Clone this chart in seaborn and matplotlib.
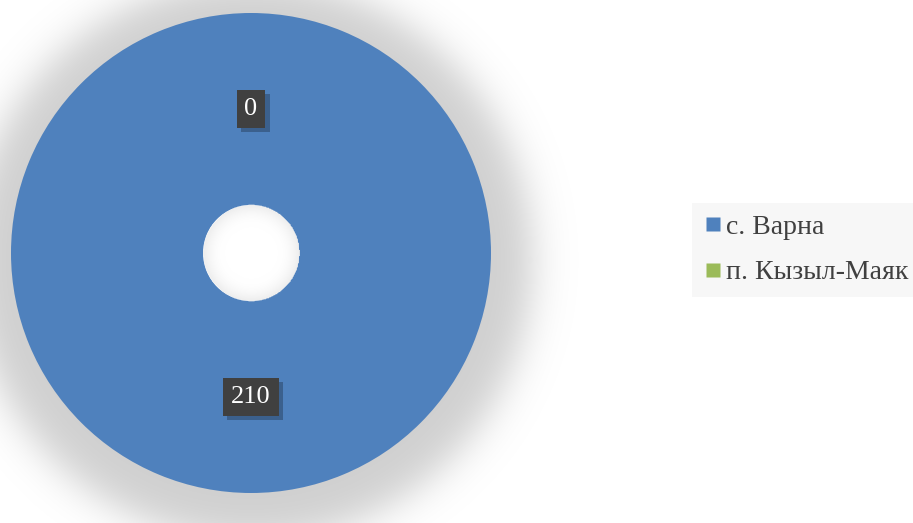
import numpy as np
import matplotlib
matplotlib.use("Agg")
import matplotlib.pyplot as plt
from matplotlib.lines import Line2D
import matplotlib.patheffects as pe
import seaborn as sns

# Data
categories = ["с. Варна", "п. Кызыл-Маяк"]
values = [210, 0]
colors = ["#4F81BD", "#9BBB59"]

sns.set_theme(style="white")
plt.rcParams["font.family"] = ["Liberation Serif", "DejaVu Serif"]

W, H = 913, 523
fig = plt.figure(figsize=(W / 100, H / 100), dpi=100)
fig.patch.set_facecolor("white")

# Square axes (in pixels) centred on the ring; 240 px == radius 1
cx, cy, half = 251, H - 253, 360
ax = fig.add_axes([(cx - half) / W, (cy - half) / H, 2 * half / W, 2 * half / H])
lim = half / 240.0

# Soft drop shadow behind the ring
n = 700
g = np.linspace(-lim, lim, n)
X, Y = np.meshgrid(g, g)
R = np.hypot(X, Y + 0.03)
alpha = 0.19 / (1.0 + np.exp((R - 1.17) / 0.05))
alpha[np.hypot(X, Y) < 0.6] = 0
shadow = np.zeros((n, n, 4))
shadow[..., 3] = alpha
ax.imshow(shadow, extent=(-lim, lim, -lim, lim), origin="lower", zorder=0,
          interpolation="bilinear")

wedges, _ = ax.pie(values, colors=colors, startangle=90, counterclock=False,
                   radius=1.0, wedgeprops=dict(width=0.8, linewidth=0))
for w in wedges:
    w.set_zorder(2)

# White hole with a faint inner edge
hole_r = 0.2
Rh = np.hypot(X, Y)
t = np.clip((Rh - hole_r * 0.55) / (hole_r * 0.45), 0, 1)
hole = np.ones((n, n, 4))
shade = 1.0 - 0.07 * t ** 2
hole[..., 0] = shade
hole[..., 1] = shade
hole[..., 2] = shade
hole[..., 3] = (Rh <= hole_r).astype(float)
ax.imshow(hole, extent=(-lim, lim, -lim, lim), origin="lower", zorder=3,
          interpolation="bilinear")

ax.set_xlim(-lim, lim)
ax.set_ylim(-lim, lim)
ax.set_aspect("auto")
ax.axis("off")

# Value labels at the middle of each ring segment
mid_r = 0.6
for w, v in zip(wedges, values):
    ang = np.deg2rad((w.theta1 + w.theta2) / 2.0)
    x, y = mid_r * np.cos(ang), mid_r * np.sin(ang)
    t = ax.text(x, y, str(v), ha="center", va="center", fontsize=19, color="white",
                bbox=dict(boxstyle="square,pad=0.3", fc="#404040", ec="none"),
                zorder=5)
    t.get_bbox_patch().set_path_effects([
        pe.SimplePatchShadow(offset=(3, -3), shadow_rgbFace="black", alpha=0.25),
        pe.Normal(),
    ])

handles = [Line2D([0], [0], marker="s", linestyle="none", markersize=10,
                  markerfacecolor=c, markeredgecolor="none") for c in colors]
leg = fig.legend(handles, categories, loc="center left",
                 bbox_to_anchor=(692 / W, 1 - 250 / H), bbox_transform=fig.transFigure,
                 frameon=True, fontsize=20, handletextpad=0.12, handlelength=0.7,
                 labelspacing=0.72, borderpad=0.4, borderaxespad=0)
frame = leg.get_frame()
frame.set_facecolor("#F7F7F7")
frame.set_edgecolor("none")
frame.set_alpha(1)
frame.set_boxstyle("square", pad=0)
for txt in leg.get_texts():
    txt.set_color("#404040")

fig.savefig("out.png", dpi=100, facecolor="white")
